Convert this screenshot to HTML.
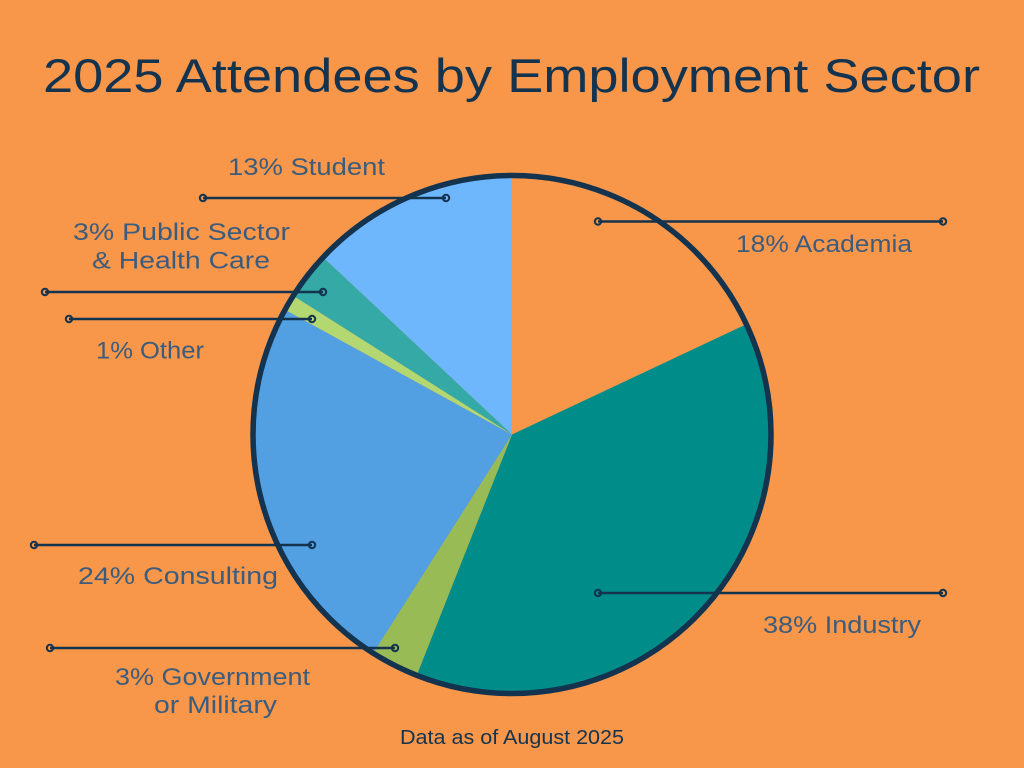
<!DOCTYPE html>
<html><head><meta charset="utf-8"><style>
html,body{margin:0;padding:0;background:#F8974A;}
svg{display:block;}
text{font-family:"Liberation Sans","DejaVu Sans",sans-serif;}
</style></head><body>
<svg width="1024" height="768" viewBox="0 0 1024 768" xmlns="http://www.w3.org/2000/svg">
<rect width="1024" height="768" fill="#F8974A"/>
<text x="43" y="92" font-size="47" fill="#13334F" textLength="937" lengthAdjust="spacingAndGlyphs">2025 Attendees by Employment Sector</text>

<g stroke="none">
<path d="M512,434.5 L512,175.5 A259,259 0 0 1 746.3,324.2 Z" fill="#F8974A"/>
<path d="M512,434.5 L746.3,324.2 A259,259 0 0 1 416.7,675.3 Z" fill="#008D8A"/>
<path d="M512,434.5 L416.7,675.3 A259,259 0 0 1 373.2,653.2 Z" fill="#98BB56"/>
<path d="M512,434.5 L373.2,653.2 A259,259 0 0 1 285.0,309.7 Z" fill="#529FE2"/>
<path d="M512,434.5 L285.0,309.7 A259,259 0 0 1 293.3,295.7 Z" fill="#B3D771"/>
<path d="M512,434.5 L293.3,295.7 A259,259 0 0 1 323.2,257.2 Z" fill="#35A9A5"/>
<path d="M512,434.5 L323.2,257.2 A259,259 0 0 1 512,175.5 Z" fill="#6EB7FD"/>
</g>
<circle cx="512" cy="434.5" r="259" fill="none" stroke="#13334F" stroke-width="5.5"/>

<g stroke="#13334F" stroke-width="2.5" fill="#F8974A">
<line x1="203" y1="198" x2="446" y2="198"/>
<line x1="45" y1="292" x2="323" y2="292"/>
<line x1="69" y1="319" x2="312" y2="319"/>
<line x1="598" y1="221.5" x2="943" y2="221.5"/>
<line x1="598" y1="593" x2="943" y2="593"/>
<line x1="34" y1="545" x2="312" y2="545"/>
<line x1="50" y1="648" x2="395" y2="648"/>
</g>
<g stroke="#13334F" stroke-width="2" fill="none">
<circle cx="203" cy="198" r="3.2"/><circle cx="446" cy="198" r="3.2"/>
<circle cx="45" cy="292" r="3.2"/><circle cx="323" cy="292" r="3.2"/>
<circle cx="69" cy="319" r="3.2"/><circle cx="312" cy="319" r="3.2"/>
<circle cx="598" cy="221.5" r="3.2"/><circle cx="943" cy="221.5" r="3.2"/>
<circle cx="598" cy="593" r="3.2"/><circle cx="943" cy="593" r="3.2"/>
<circle cx="34" cy="545" r="3.2"/><circle cx="312" cy="545" r="3.2"/>
<circle cx="50" cy="648" r="3.2"/><circle cx="395" cy="648" r="3.2"/>
</g>

<g font-size="24" fill="#3B5C7D">
<text x="228" y="175" textLength="157" lengthAdjust="spacingAndGlyphs">13% Student</text>
<text x="73" y="240" textLength="217" lengthAdjust="spacingAndGlyphs">3% Public Sector</text>
<text x="92" y="268.5" textLength="178" lengthAdjust="spacingAndGlyphs">&amp; Health Care</text>
<text x="96" y="358.5" textLength="108" lengthAdjust="spacingAndGlyphs">1% Other</text>
<text x="736" y="252" textLength="176" lengthAdjust="spacingAndGlyphs">18% Academia</text>
<text x="763" y="633" textLength="158" lengthAdjust="spacingAndGlyphs">38% Industry</text>
<text x="78" y="584" textLength="200" lengthAdjust="spacingAndGlyphs">24% Consulting</text>
<text x="115" y="685" textLength="195" lengthAdjust="spacingAndGlyphs">3% Government</text>
<text x="154" y="713" textLength="123" lengthAdjust="spacingAndGlyphs">or Military</text>
</g>
<text x="400" y="744" font-size="20" fill="#13334F" textLength="224" lengthAdjust="spacingAndGlyphs">Data as of August 2025</text>
</svg>
</body></html>
